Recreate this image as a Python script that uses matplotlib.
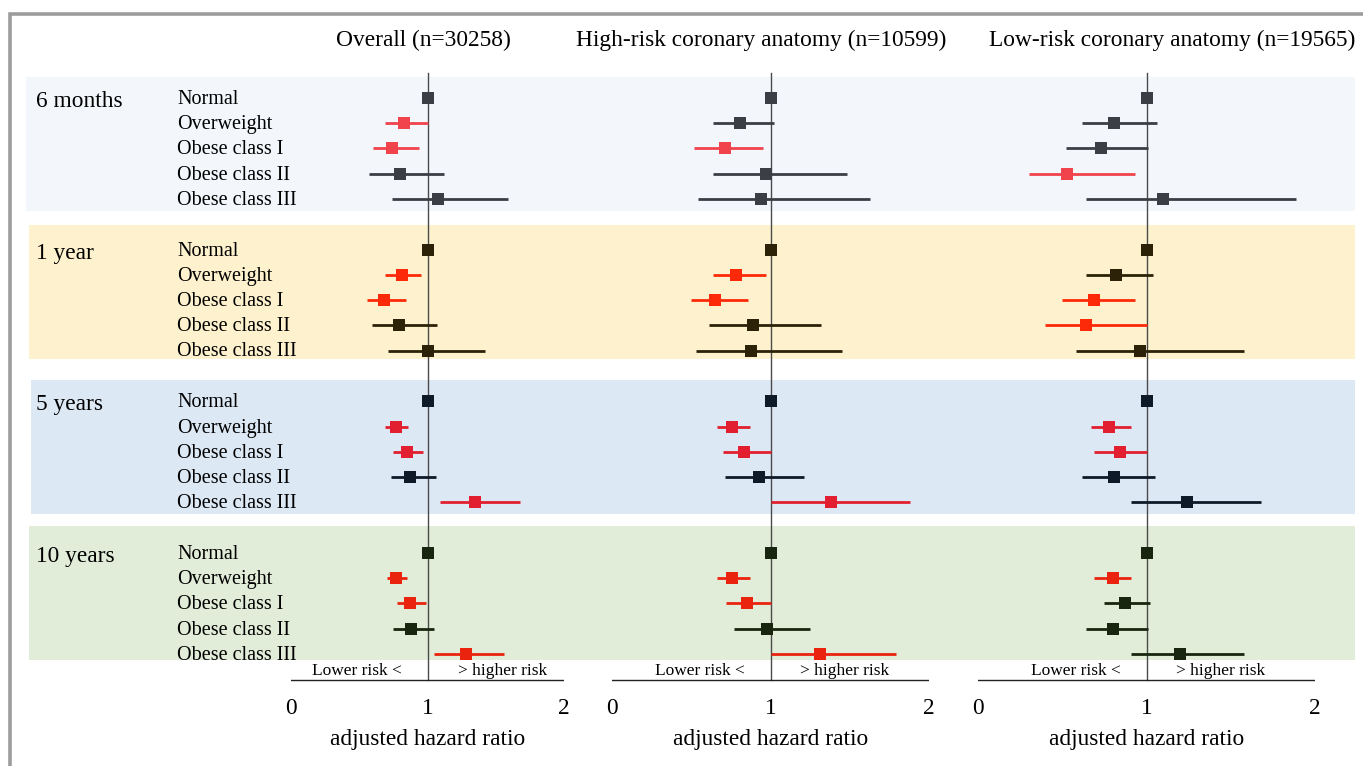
import matplotlib.pyplot as plt
from matplotlib.patches import Rectangle

plt.rcParams['font.family'] = ['Liberation Serif', 'DejaVu Serif']

# ---- data ----
periods = ['6 months', '1 year', '5 years', '10 years']
bmi_groups = ['Normal', 'Overweight', 'Obese class I', 'Obese class II', 'Obese class III']
panel_titles = ['Overall (n=30258)',
                'High-risk coronary anatomy (n=10599)',
                'Low-risk coronary anatomy (n=19565)']
axis_ticks = [0, 1, 2]
risk_labels = ['Lower risk <', '> higher risk']
x_label = 'adjusted hazard ratio'

# rows = periods, columns = bmi groups
overall_hr = [[1.00, 0.83, 0.74, 0.80, 1.08],
              [1.00, 0.81, 0.68, 0.79, 1.00],
              [1.00, 0.77, 0.85, 0.87, 1.35],
              [1.00, 0.77, 0.87, 0.88, 1.28]]
overall_lo = [[1.00, 0.69, 0.60, 0.57, 0.74],
              [1.00, 0.69, 0.56, 0.59, 0.71],
              [1.00, 0.69, 0.75, 0.73, 1.09],
              [1.00, 0.70, 0.78, 0.75, 1.05]]
overall_hi = [[1.00, 1.00, 0.94, 1.12, 1.59],
              [1.00, 0.95, 0.84, 1.07, 1.42],
              [1.00, 0.86, 0.97, 1.06, 1.68],
              [1.00, 0.85, 0.99, 1.05, 1.56]]
overall_sig = [[0, 1, 1, 0, 0],
               [0, 1, 1, 0, 0],
               [0, 1, 1, 0, 1],
               [0, 1, 1, 0, 1]]

high_hr = [[1.00, 0.81, 0.71, 0.97, 0.94],
           [1.00, 0.78, 0.65, 0.89, 0.88],
           [1.00, 0.76, 0.83, 0.93, 1.38],
           [1.00, 0.76, 0.85, 0.98, 1.31]]
high_lo = [[1.00, 0.64, 0.52, 0.64, 0.54],
           [1.00, 0.64, 0.50, 0.61, 0.53],
           [1.00, 0.66, 0.70, 0.71, 1.00],
           [1.00, 0.66, 0.72, 0.77, 1.00]]
high_hi = [[1.00, 1.02, 0.95, 1.48, 1.63],
           [1.00, 0.97, 0.86, 1.32, 1.45],
           [1.00, 0.87, 1.00, 1.21, 1.88],
           [1.00, 0.87, 1.00, 1.25, 1.79]]
high_sig = [[0, 0, 1, 0, 0],
            [0, 1, 1, 0, 0],
            [0, 1, 1, 0, 1],
            [0, 1, 1, 0, 1]]

low_hr = [[1.00, 0.81, 0.73, 0.53, 1.10],
          [1.00, 0.82, 0.69, 0.64, 0.96],
          [1.00, 0.78, 0.84, 0.81, 1.24],
          [1.00, 0.80, 0.87, 0.80, 1.20]]
low_lo = [[1.00, 0.62, 0.52, 0.30, 0.64],
          [1.00, 0.64, 0.50, 0.40, 0.58],
          [1.00, 0.67, 0.69, 0.62, 0.91],
          [1.00, 0.69, 0.75, 0.64, 0.91]]
low_hi = [[1.00, 1.06, 1.01, 0.93, 1.89],
          [1.00, 1.04, 0.93, 1.00, 1.58],
          [1.00, 0.91, 1.00, 1.05, 1.68],
          [1.00, 0.91, 1.02, 1.01, 1.58]]
low_sig = [[0, 0, 0, 1, 0],
           [0, 0, 1, 1, 0],
           [0, 1, 1, 0, 0],
           [0, 1, 0, 0, 0]]

panels = [(overall_hr, overall_lo, overall_hi, overall_sig),
          (high_hr, high_lo, high_hi, high_sig),
          (low_hr, low_lo, low_hi, low_sig)]

# ---- layout (pixels) ----
W, H = 1363, 766
panel_x = [(291, 564), (612, 929), (978, 1315)]   # pixel of HR=0 and HR=2
title_x = [423, 761, 1172]
first_row_y = 98
group_step = 151.7
row_step = 25.2
band_top = [77, 225, 380, 526]
band_left = [26, 29, 31, 29]
band_right = 1355
band_height = 134
band_colors = ['#f3f7fc', '#fef1cd', '#dde8f5', '#e1edd8']
dark_colors = ['#3b3e44', '#2b2208', '#0f1a28', '#18260f']
red_colors = ['#f0434c', '#fd2a0a', '#e21f30', '#ea230f']

fig = plt.figure(figsize=(W / 100, H / 100), dpi=100)
fig.patch.set_facecolor('white')

bg = fig.add_axes([0, 0, 1, 1])
bg.set_xlim(0, W)
bg.set_ylim(H, 0)
bg.axis('off')

# outer gray frame (top + left)
bg.plot([9.5, 9.5, W + 5], [H + 5, 13.5, 13.5], color='#9c9c9c', lw=2.6,
        solid_joinstyle='miter')

for k, top in enumerate(band_top):
    bg.add_patch(Rectangle((band_left[k], top), band_right - band_left[k], band_height,
                           facecolor=band_colors[k], edgecolor='none', zorder=0))
    y0 = first_row_y + k * group_step
    bg.text(36, y0 + 9, periods[k], fontsize=16.8, va='baseline')
    for r, name in enumerate(bmi_groups):
        bg.text(177, y0 + r * row_step + 6, name, fontsize=14.5, va='baseline')

for p, (hr, lo, hi, sig) in enumerate(panels):
    x0, x2 = panel_x[p]
    ax = fig.add_axes([x0 / W, 0, (x2 - x0) / W, 1])
    ax.set_xlim(0, 2)
    ax.set_ylim(H, 0)
    ax.axis('off')

    # reference line at HR = 1 and bottom axis
    ax.plot([1, 1], [73, 680], color='#4a4a4a', lw=1.0, zorder=1)
    ax.plot([0, 2], [680, 680], color='#222222', lw=1.0, zorder=1)

    for k in range(len(periods)):
        y0 = first_row_y + k * group_step
        for r in range(len(bmi_groups)):
            y = y0 + r * row_step
            c = red_colors[k] if sig[k][r] else dark_colors[k]
            ax.plot([lo[k][r], hi[k][r]], [y, y], color=c, lw=2.0,
                    solid_capstyle='butt', zorder=2)
            ax.plot(hr[k][r], y, marker='s', ms=8.6, color=c, mew=0, zorder=3)

    ax.annotate(risk_labels[0], xy=(1, 671), xytext=(-26, 0), textcoords='offset pixels',
                ha='right', va='center', fontsize=12.5)
    ax.annotate(risk_labels[1], xy=(1, 671), xytext=(30, 0), textcoords='offset pixels',
                ha='left', va='center', fontsize=12.5)

    for t in axis_ticks:
        ax.text(t, 708, str(t), ha='center', va='center', fontsize=16.8)
    ax.text(1, 740, x_label, ha='center', va='center', fontsize=16.8)

    fig.text(title_x[p] / W, 1 - 40 / H, panel_titles[p], ha='center', va='center',
             fontsize=16.8)

fig.savefig('out.png', dpi=100)
